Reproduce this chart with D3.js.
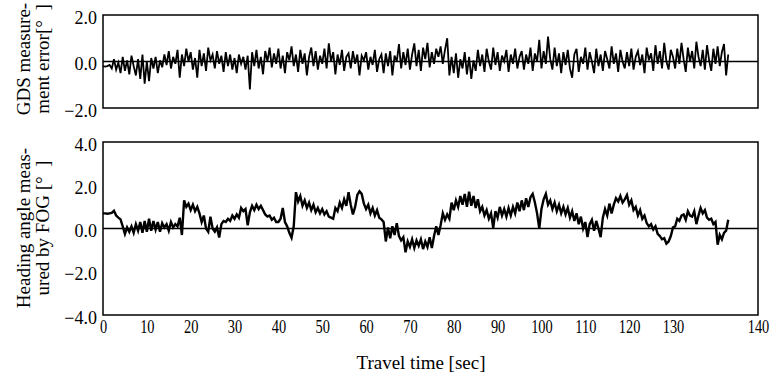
<!DOCTYPE html>
<html>
<head>
<meta charset="utf-8">
<script src="https://cdn.jsdelivr.net/npm/d3@7"></script>
<style>
  body { margin: 0; background: #fff; }
  text { font-family: "Liberation Serif", "Times New Roman", serif; fill: #000; }
</style>
</head>
<body>
<div id="chart"></div>
<script>
// sampling grid: every 0.5 s up to 130 s, every 0.25 s after (last segment of the axis is drawn wider)
var timeMain = d3.range(0, 130, 0.5);
var timeTail = d3.range(130, 136.75, 0.25);
var timeSec = timeMain.concat(timeTail);

// GDS measurement error [deg]
var gdsError = [
  -0.2, -0.22, -0.2, -0.15, -0.3, 0.1, -0.35, -0.05, -0.5, 0.2,
  -0.4, 0.05, -0.55, 0.25, -0.2, -0.6, 0.1, -0.75, 0.3, -0.95,
  0.0, -0.85, 0.15, -0.3, 0.2, -0.5, 0.05, -0.25, 0.3, -0.15,
  0.45, -0.3, 0.2, -0.1, 0.5, -0.7, 0.3, -0.2, 0.55, 0.0,
  0.4, -0.35, 0.15, -0.7, 0.5, -0.2, 0.35, -0.4, 0.6, 0.05,
  0.3, -0.3, 0.45, -0.1, 0.25, -0.45, 0.4, -0.2, 0.3, -0.35,
  0.15, -0.5, 0.3, -0.1, 0.2, -0.35, 0.25, -1.2, 0.4, -0.2,
  0.5, -0.3, 0.2, -0.55, 0.45, 0.0, 0.6, -0.25, 0.35, -0.1,
  0.55, -0.3, 0.25, -0.5, 0.4, 0.05, 0.65, -0.2, 0.3, -0.45,
  0.5, -0.1, 0.35, -0.6, 0.2, 0.6, -0.2, 0.45, -0.35, 0.25,
  -0.1, 0.55, -0.3, 0.78, 0.0, 0.4, -0.55, 0.3, -0.15, 0.5,
  -0.4, 0.2, 0.35, -0.3, 0.45, -0.1, 0.3, -0.6, 0.25, 0.05,
  0.4, -0.35, 0.2, -0.15, 0.5, -0.45, 0.1, 0.3, -0.5, 0.35,
  -0.2, 0.45, -0.6, 0.25, 0.0, 0.75, -0.3, 0.4, -0.15, 0.55,
  -0.35, 0.3, 0.78, -0.2, 0.5, -0.4, 0.6, 0.1, 0.8, -0.25,
  0.4, -0.1, 0.55, 0.2, 0.65, -0.1, 0.5, 1.0, -0.6, 0.2,
  -0.5, 0.35, -0.7, 0.1, -0.3, 0.4, -0.55, 0.2, -0.75, 0.05,
  -0.4, 0.5, -0.2, 0.3, -0.45, 0.55, 0.0, -0.35, 0.6, -0.15,
  0.4, -0.4, 0.25, 0.0, 0.5, -0.45, 0.3, -0.1, 0.55, -0.3,
  0.2, 0.45, -0.35, 0.3, -0.1, 0.6, -0.4, 0.35, 0.0, 0.93,
  -0.3, 0.45, -0.1, 1.07, 0.1, -0.35, 0.6, -0.2, 0.35, -0.5,
  0.4, -0.15, 0.5, -0.3, -0.7, 0.3, 0.55, -0.45, 0.2, -0.1,
  0.6, -0.35, 0.4, 0.0, -0.5, 0.55, -0.2, 0.3, -0.4, 0.45,
  0.1, -0.3, 0.65, -0.1, 0.35, -0.45, 0.5, 0.0, -0.3, 0.4,
  -0.2, 0.55, -0.35, 0.2, 0.45, -0.15, 0.3, -0.5, 0.6, 0.05,
  0.35, -0.4, 0.7, -0.1, 0.45, -0.3, 0.8, 0.0, -0.35, 0.5,
  // 130 s onwards (0.25 s)
  0.2, -0.3, 0.55, -0.1, 0.8, 0.1, -0.45, 0.6, 0.0, 0.45,
  -0.3, 0.85, 0.2, -0.2, 0.5, -0.35, 0.7, 0.05, -0.4, 0.55,
  -0.1, 0.65, -0.2, 0.4, 0.75, -0.6, 0.3
];

// heading angle measured by FOG [deg]
var fogHeading = [
  0.7, 0.7, 0.68, 0.7, 0.72, 0.82, 0.6, 0.5, 0.42, 0.1,
  -0.25, 0.05, -0.15, 0.1, -0.2, 0.2, -0.1, 0.3, -0.2, 0.35,
  -0.15, 0.45, -0.1, 0.35, -0.05, 0.3, -0.15, 0.25, 0.05, 0.2,
  -0.1, 0.3, 0.05, 0.2, 0.1, 0.5, -0.3, 1.3, 1.0, 1.15,
  0.85, 1.1, 0.8, 1.0, 0.7, 0.3, 0.6, 0.0, -0.15, 0.55,
  0.0, -0.15, 0.05, -0.42, 0.2, 0.35, 0.3, 0.45, 0.35, 0.6,
  0.45, 0.65, 0.5, 0.95, 0.8, 0.9, 0.15, 0.75, 1.05, 0.85,
  1.1, 0.9, 1.05, 0.85, 0.65, 0.55, 0.6, 0.4, 0.5, 0.3,
  0.3, 0.45, 0.95, 0.3, 0.1, -0.2, -0.43, 0.1, 1.68, 1.25,
  1.5, 1.05, 1.3, 0.95, 1.2, 0.85, 1.1, 0.75, 0.95, 0.7,
  0.9, 0.65, 0.8, 0.55, 0.5, 0.45, 0.95, 0.8, 1.2, 0.95,
  1.35, 1.05, 1.68, 1.1, 0.65, 1.0, 1.55, 1.72, 1.6, 1.15,
  0.9, 1.1, 0.7, 0.95, 0.6, 0.85, 0.5, 0.42, 0.3, -0.6,
  0.05, -0.45, 0.1, -0.3, 0.25, -0.35, -0.55, -0.4, -1.1, -0.6,
  -0.85, -0.5, -0.9, -0.55, -0.8, -0.5, -0.95, -0.6, -0.85, -0.4,
  -0.9, -0.35, 0.1, -0.3, 0.15, 0.7, 0.4, 0.65, 0.45, 1.2,
  0.85, 1.3, 1.0, 1.5, 1.1, 1.6, 1.0, 1.7, 1.05, 1.5,
  0.95, 1.35, 0.8, 1.0, 0.6, 0.85, 0.45, 0.7, 0.03, 0.8,
  0.5, 1.0, 0.6, 0.9, 0.55, 0.95, 0.6, 1.0, 0.7, 1.2,
  0.8, 1.3, 0.85, 1.4, 1.0, 1.45, 1.6, 1.2, 0.7, 0.0,
  0.9, 1.35, 1.6, 1.1, 1.3, 0.9, 1.2, 0.8, 1.1, 0.7,
  1.0, 0.65, 0.95, 0.5, 0.8, 0.35, 0.7, 0.2, 0.55, 0.0,
  0.3, -0.4, 0.2, 0.4, -0.1, 0.35, 0.0, -0.4, 0.5, 0.9,
  0.6, 1.15, 0.7, 1.1, 1.4, 1.25, 1.5, 1.2, 1.35, 1.55,
  1.1, 1.3, 0.85, 1.0, 0.6, 0.85, 0.45, 0.6, 0.25, 0.1,
  0.2, -0.05, 0.1, -0.25, -0.35, -0.5, -0.45, -0.7, -0.6, -0.35,
  // 130 s onwards (0.25 s)
  0.05, 0.1, 0.45, 0.35, 0.6, 0.65, 0.4, 0.8, 0.6, 0.55,
  0.8, 0.2, 0.6, 0.95, 0.7, 0.85, 0.5, 0.4, 0.45, 0.2,
  0.3, -0.75, -0.3, -0.5, -0.2, -0.1, 0.4
];

var xTicks = [0, 10, 20, 30, 40, 50, 60, 70, 80, 90, 100, 110, 120, 130, 140];
var topTicks = [2, 0, -2];
var bottomTicks = [4, 2, 0, -2, -4];

var width = 772, height = 375;
var left = 103, right = 758;

var svg = d3.select("#chart").append("svg")
    .attr("width", width)
    .attr("height", height);

// x scale: the printed labels are 0..130 evenly, 140 sits at the right edge
var x = d3.scaleLinear()
    .domain([0, 130, 140])
    .range([left, 673, right]);

var yTop = d3.scaleLinear().domain([-2, 2]).range([108, 15]);
var yBot = d3.scaleLinear().domain([-4, 4]).range([315, 142]);

function drawPanel(y, values, ticks, lw){
    // frame
    svg.append("rect")
        .attr("x", left)
        .attr("y", y.range()[1])
        .attr("width", right - left)
        .attr("height", y.range()[0] - y.range()[1])
        .attr("fill", "none")
        .attr("stroke", "#000")
        .attr("stroke-width", 1.5);

    // zero line
    svg.append("line")
        .attr("x1", left).attr("x2", right)
        .attr("y1", y(0)).attr("y2", y(0))
        .attr("stroke", "#000")
        .attr("stroke-width", 1.5);

    var line = d3.line()
        .x(function(d, i){ return x(timeSec[i]); })
        .y(function(d){ return y(d); });

    svg.append("path")
        .datum(values)
        .attr("d", line)
        .attr("fill", "none")
        .attr("stroke", "#000")
        .attr("stroke-width", lw)
        .attr("stroke-linejoin", "miter");

    var ax = svg.append("g")
        .attr("transform", "translate(" + left + ",0)")
        .call(d3.axisLeft(y).tickValues(ticks).tickSize(0).tickPadding(6)
            .tickFormat(d3.format(".1f")));
    ax.select(".domain").remove();
    ax.selectAll("text")
        .style("font-family", '"Liberation Serif", serif')
        .style("font-size", "18px")
        .attr("dy", "0.45em");
}

drawPanel(yTop, gdsError, topTicks, 1.8);
drawPanel(yBot, fogHeading, bottomTicks, 2.4);

// x axis labels (no tick marks in the original)
var xa = svg.append("g")
    .attr("transform", "translate(0,315)")
    .call(d3.axisBottom(x).tickValues(xTicks).tickSize(0).tickPadding(5));
xa.select(".domain").remove();
xa.selectAll("text")
    .style("font-family", '"Liberation Serif", serif')
    .style("font-size", "18px")
    .attr("transform", "scale(0.8,1)");

svg.append("text")
    .attr("x", 421)
    .attr("y", 369)
    .attr("text-anchor", "middle")
    .style("font-size", "19px")
    .text("Travel time [sec]");

// y titles, two lines each
function yTitle(lines, cy){
    var t = svg.append("text")
        .attr("transform", "translate(0," + cy + ") rotate(-90)")
        .attr("text-anchor", "middle")
        .style("font-size", "19px")
        .style("white-space", "pre");
    t.selectAll("tspan")
        .data(lines)
        .enter().append("tspan")
        .attr("x", 0)
        .attr("y", function(d, i){ return 30 + i * 19; })
        .text(function(d){ return d; });
}

yTitle(["GDS measure-", "ment error[°  ]"], 59);
yTitle(["Heading angle meas-", "ured by FOG [°  ]"], 228);
</script>
</body>
</html>
